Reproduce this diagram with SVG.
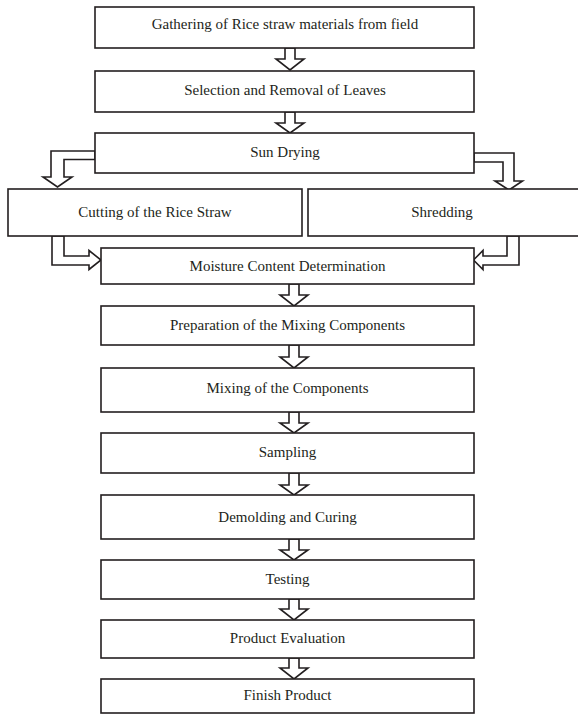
<svg xmlns="http://www.w3.org/2000/svg" width="578" height="715" viewBox="0 0 578 715">
<style>
.box{fill:#fff;stroke:#231f20;stroke-width:1.6}
.arr{fill:#fff;stroke:#231f20;stroke-width:1.6;stroke-linejoin:miter}
.t{font-family:"Liberation Serif","Times New Roman",serif;font-size:15px;fill:#231f20;text-anchor:middle}
</style>
<rect width="578" height="715" fill="#fff"/>
<g id="connectors">
<polygon class="arr" points="285,48 295,48 295,59 304,59 290,70 276,59 285,59"/>
<polygon class="arr" points="285,112 295,112 295,123 304,123 290,133 276,123 285,123"/>
<polygon class="arr" points="95,151 51,151 51,177 43,177 57.5,187 72,177 64,177 64,159.5 95,159.5"/>
<polygon class="arr" points="474,153 514,153 514,181 522.5,181 509,190 495,181 503,181 503,162 474,162"/>
<polygon class="arr" points="52,236 52,265 89,265 89,269.5 101,260 89,250.5 89,256 64,256 64,236"/>
<polygon class="arr" points="519,236 519,265 483,265 483,269.5 473.5,260 483,250.5 483,256 507,256 507,236"/>
<polygon class="arr" points="289,284 299,284 299,295 308,295 294,306 280,295 289,295"/>
<polygon class="arr" points="289,345 299,345 299,357 308,357 294,368 280,357 289,357"/>
<polygon class="arr" points="289,412 299,412 299,423 308,423 294,433 280,423 289,423"/>
<polygon class="arr" points="289,473 299,473 299,485 308,485 294,495 280,485 289,485"/>
<polygon class="arr" points="289,539 299,539 299,550 308,550 294,560 280,550 289,550"/>
<polygon class="arr" points="289,599 299,599 299,609 308,609 294,620 280,609 289,609"/>
<polygon class="arr" points="289,658 299,658 299,668 308,668 294,679 280,668 289,668"/>
</g>
<g id="n1"><rect class="box" x="95" y="7" width="379" height="41"/><text class="t" x="285" y="29">Gathering of Rice straw materials from field</text></g>
<g id="n2"><rect class="box" x="95" y="71" width="379" height="41"/><text class="t" x="285" y="95">Selection and Removal of Leaves</text></g>
<g id="n3"><rect class="box" x="95" y="133" width="379" height="40"/><text class="t" x="285" y="157">Sun Drying</text></g>
<g id="n4"><rect class="box" x="8" y="189" width="294" height="47"/><text class="t" x="155" y="217">Cutting of the Rice Straw</text></g>
<g id="n5"><rect class="box" x="308" y="189" width="290" height="47"/><text class="t" x="442" y="217">Shredding</text></g>
<g id="n6"><rect class="box" x="101" y="248" width="373" height="36"/><text class="t" x="287.5" y="271">Moisture Content Determination</text></g>
<g id="n7"><rect class="box" x="101" y="306" width="373" height="39"/><text class="t" x="287.5" y="330">Preparation of the Mixing Components</text></g>
<g id="n8"><rect class="box" x="101" y="368" width="373" height="44"/><text class="t" x="287.5" y="393">Mixing of the Components</text></g>
<g id="n9"><rect class="box" x="101" y="433" width="373" height="40"/><text class="t" x="287.5" y="457">Sampling</text></g>
<g id="n10"><rect class="box" x="101" y="495" width="373" height="44"/><text class="t" x="287.5" y="522">Demolding and Curing</text></g>
<g id="n11"><rect class="box" x="101" y="560" width="373" height="39"/><text class="t" x="287.5" y="584">Testing</text></g>
<g id="n12"><rect class="box" x="101" y="620" width="373" height="38"/><text class="t" x="287.5" y="643">Product Evaluation</text></g>
<g id="n13"><rect class="box" x="101" y="679" width="373" height="34"/><text class="t" x="287.5" y="700">Finish Product</text></g>
</svg>
